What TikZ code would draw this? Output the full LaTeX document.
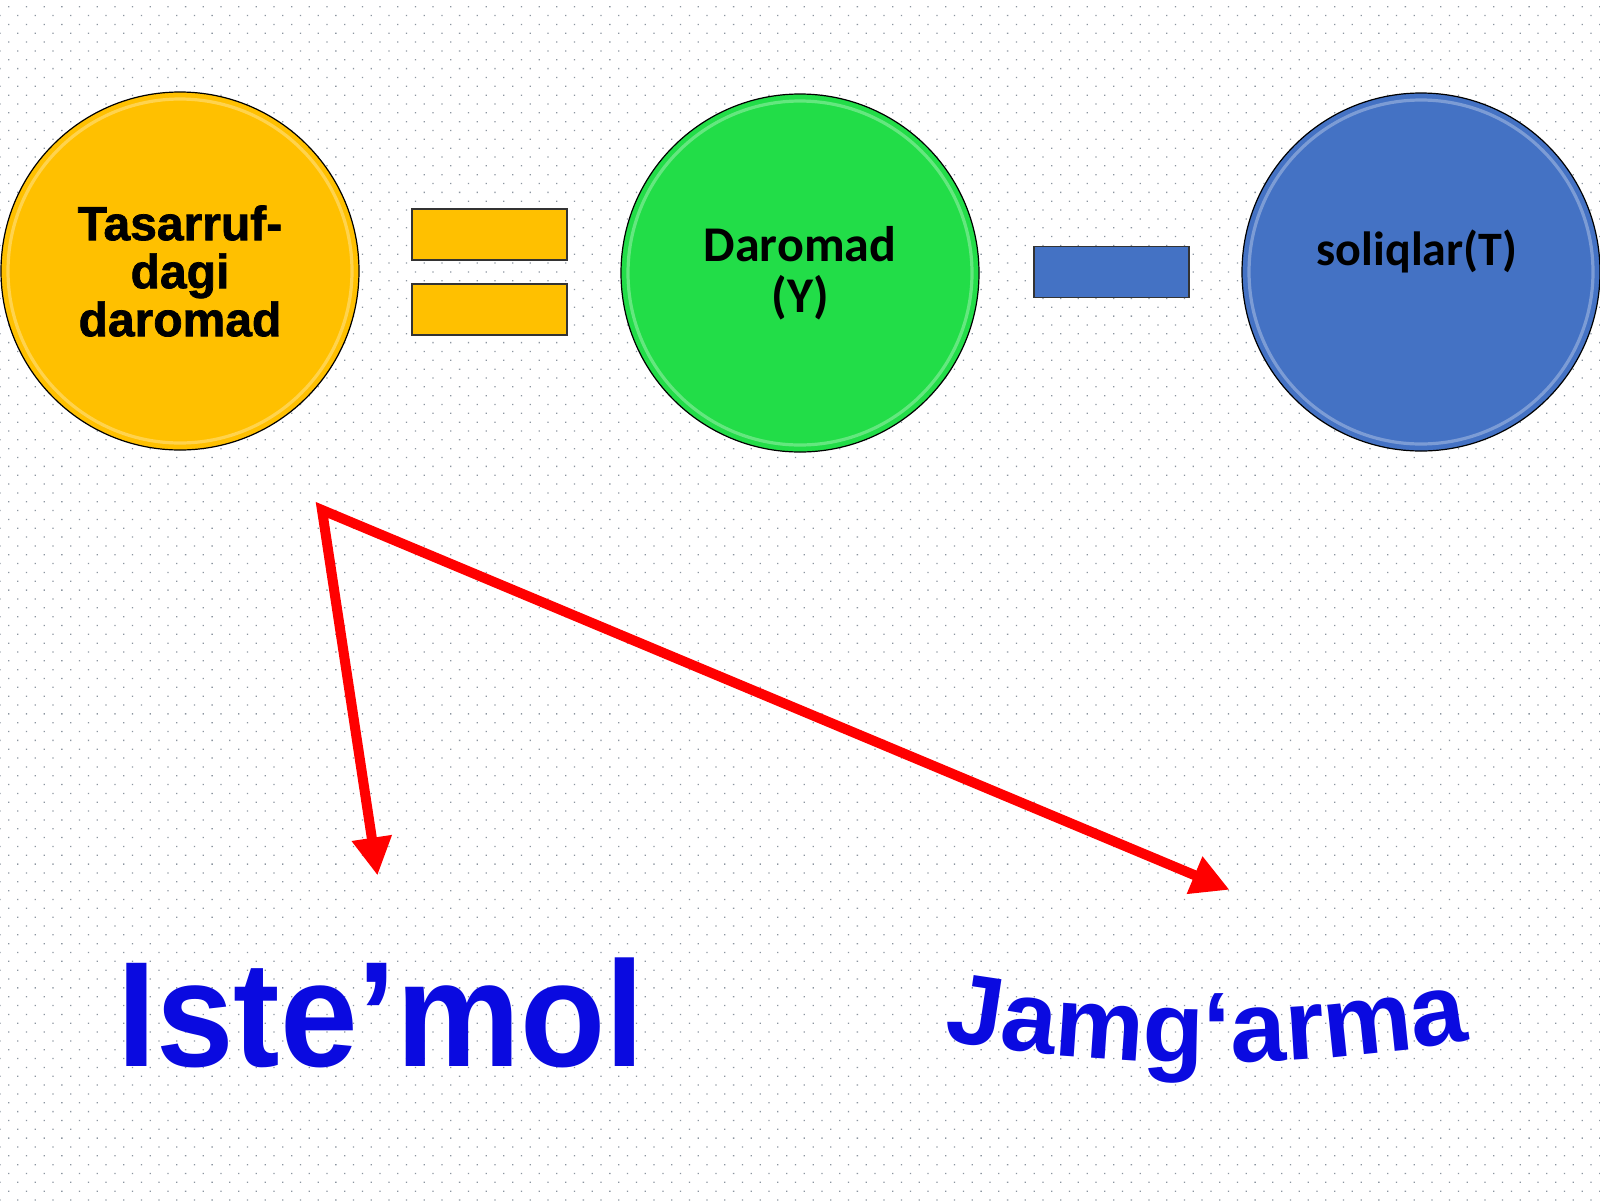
\documentclass[tikz,border=0pt]{standalone}
\usepackage{fontspec}
\setmainfont{Liberation Sans}
\newfontfamily\carl{Carlito}
\newfontfamily\heavyfont{Liberation Sans}[BoldFeatures={FakeBold=1.5}]
\usetikzlibrary{arrows.meta,patterns.meta,decorations.text}
\definecolor{yel}{HTML}{FFC000}
\definecolor{grn}{HTML}{22DD48}
\definecolor{blu}{HTML}{4472C4}
\definecolor{wordblue}{HTML}{0A0AE0}
\definecolor{arrowred}{HTML}{FF0000}
\definecolor{dotgray}{HTML}{8C96A0}
\begin{document}
\begin{tikzpicture}[x=0.5pt,y=0.5pt,
  circ/.style={circle, draw=black, line width=0.6pt, minimum size=179pt, inner sep=0pt, align=center, text=black},
  shine/.style={draw=white, opacity=0.3, line width=1.6pt},
  bar/.style={rectangle, draw=black!80, line width=0.8pt, minimum width=77.5pt, minimum height=25.5pt, inner sep=0pt},
  arrowline/.style={draw=arrowred, line width=5pt, line join=miter,
    {Triangle[length=19pt,width=19pt]}-{Triangle[length=19pt,width=19pt]}},
  bigword/.style={text=wordblue, inner sep=0pt, anchor=base}
]
\fill[white] (0,0) rectangle (1600,-1200);
\fill[pattern={Dots[radius=0.45pt,distance=6.25pt,angle=45]}, pattern color=dotgray] (0,0) rectangle (1600,-1200);
\useasboundingbox (0,0) rectangle (1600,-1200);

% circles
\node[circ, fill=yel, font=\heavyfont\bfseries\fontsize{24pt}{24pt}\selectfont] (disp) at (180,-271) {Tasarruf-\\dagi\\daromad};
\node[circ, fill=grn, font=\carl\bfseries\fontsize{25pt}{25.5pt}\selectfont] (inc) at (800,-273) {Daromad\\(Y)};
\node[circ, fill=blu] (tax) at (1421,-272) {};
\node[font=\carl\bfseries\fontsize{24pt}{24pt}\selectfont, text=black] (taxlabel) at (1417,-251) {soliqlar(T)};
\draw[shine] (disp.center) circle (86pt);
\draw[shine] (inc.center) circle (86pt);
\draw[shine] (tax.center) circle (86pt);

% operator bars
\node[bar, fill=yel] (eqa) at (489.5,-234.5) {};
\node[bar, fill=yel] (eqb) at (489.5,-309.5) {};
\node[bar, fill=blu] (minus) at (1111.5,-272) {};

% arrows
\coordinate (apex) at (322,-510);
\coordinate (tipA) at (377.5,-875.5);
\coordinate (tipB) at (1229.6,-889.8);
\draw[arrowline] (tipA) -- (apex) -- (tipB);

% words
\node[bigword, font=\bfseries\fontsize{75pt}{75pt}\selectfont] (cons) at (381,-1066) {\scalebox{0.93}[1]{Iste’mol}};
\coordinate (savA) at (915,-1035);
\coordinate (savB) at (1498,-1035);
\path[decorate, decoration={text along path, text align=center,
   text color=wordblue,
   text={|\bfseries\fontsize{50pt}{50pt}\selectfont|Jamg‘arma}}]
   (savA) .. controls (1108,-1071) and (1305,-1071) .. (savB);
\end{tikzpicture}
\end{document}
